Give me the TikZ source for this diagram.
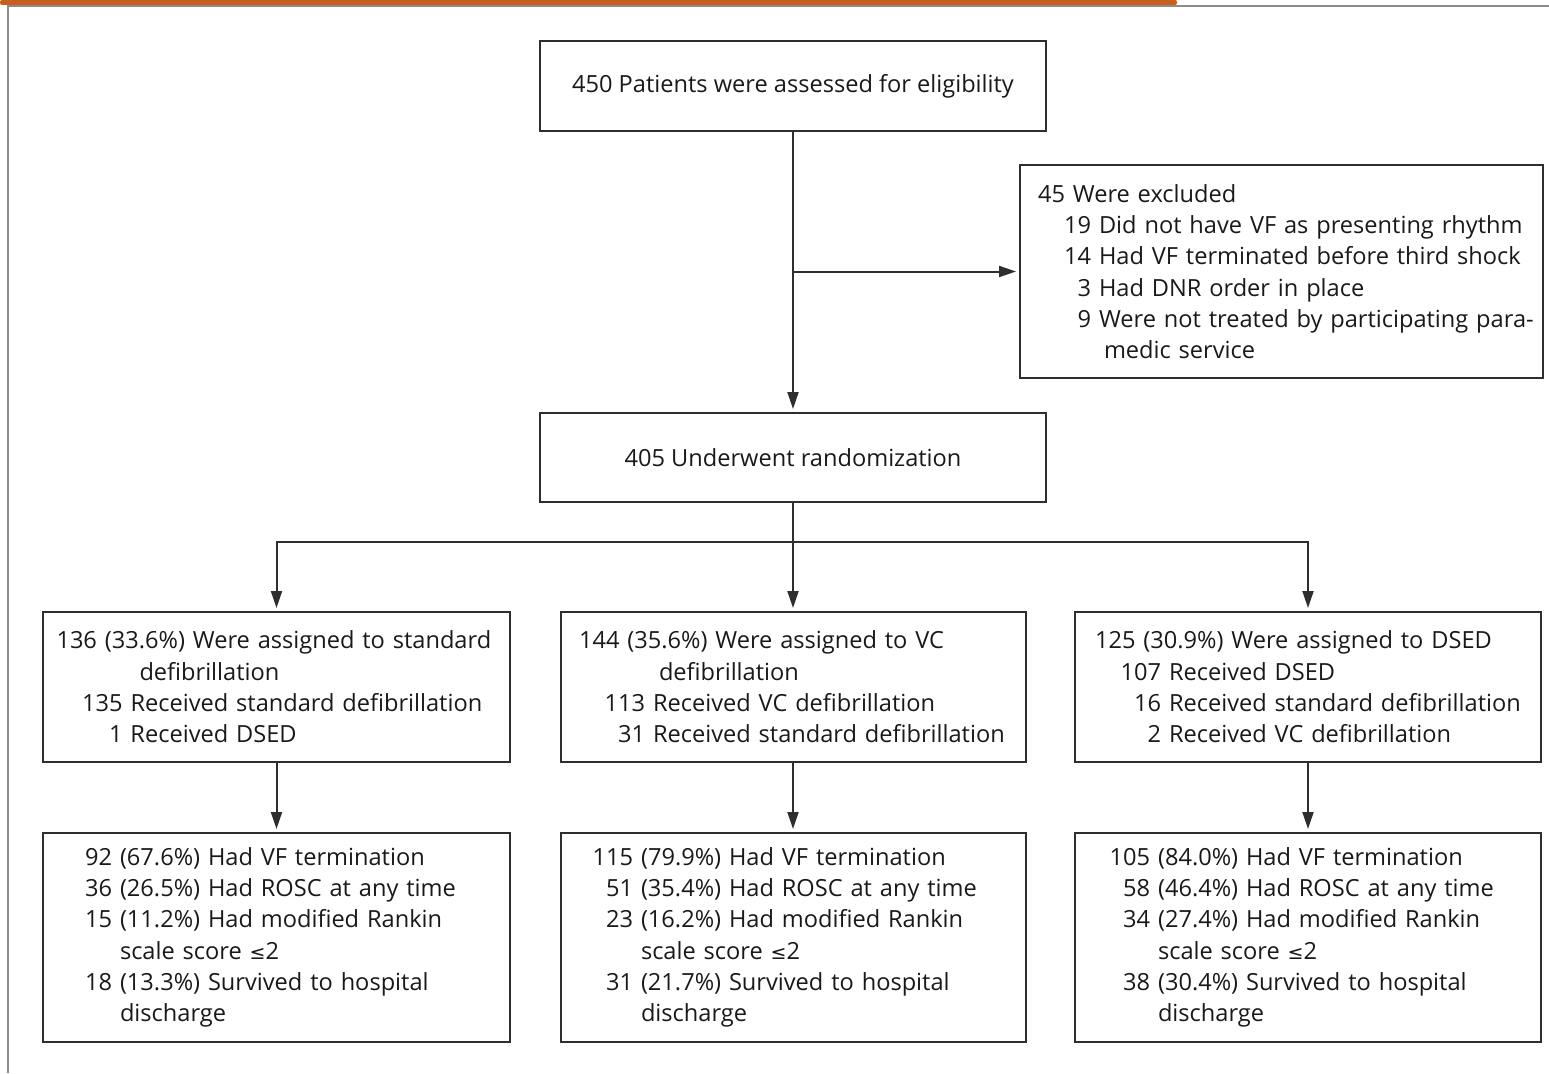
\documentclass[tikz,border=0pt]{standalone}
\usepackage{fontspec}
\setmainfont{Open Sans}
\newfontfamily\symfont{DejaVu Sans}
\usetikzlibrary{positioning,arrows.meta}
\definecolor{nejmorange}{HTML}{C8601C}
\definecolor{framegray}{HTML}{8C8C8C}
\definecolor{inkgray}{HTML}{2E2E2E}
\newcommand{\boxfont}{\fontsize{23.6}{31.3}\selectfont}
\newcommand{\itm}[3]{\hspace*{#1}\llap{#2\ }\rlap{#3}}
\newcommand{\ind}[2]{\hspace*{#1}\rlap{#2}}
\newcommand{\leqs}{{\symfont\fontsize{19}{19}\selectfont ≤}}
\tikzset{
  flowarrow/.style={-{Triangle[length=17pt,width=11pt]}, line width=2pt, draw=inkgray, shorten >=3pt},
  flowline/.style={line width=2pt, draw=inkgray},
  flowbox/.style={draw=inkgray, line width=2pt, inner xsep=0pt, align=left, text=black!90},
  headbox/.style={draw=inkgray, line width=2pt, align=center, text=black!90, minimum width=506pt, minimum height=90pt},
  armbox/.style={flowbox, minimum height=150pt},
  outbox/.style={flowbox, minimum height=209pt}
}

\begin{document}
\begin{tikzpicture}[x=1pt, y=-1pt, every node/.style={font=\boxfont}]
  \useasboundingbox (0,0) rectangle (1549,1073);
  % page frame
  \draw[line width=2pt, framegray] (8,1073) -- (8,6) -- (1549,6);
  \fill[nejmorange, rounded corners=2pt] (0,0) rectangle (1177,5);

  \node[headbox] (n450) at (793,86) {450 Patients were assessed for eligibility};
  \node[flowbox, text width=523pt, minimum height=213pt] (nexcl) at (1281.5,271.5) {%
    \ind{18pt}{45 Were excluded}\\
    \itm{79pt}{19}{Did not have VF as presenting rhythm}\\
    \itm{79pt}{14}{Had VF terminated before third shock}\\
    \itm{79pt}{3}{Had DNR order in place}\\
    \itm{79pt}{9}{Were not treated by participating para-}\\
    \ind{84pt}{medic service}};
  \node[headbox, minimum height=89pt] (nrand) at (793,457.5) {405 Underwent randomization};

  % randomized arms
  \node[armbox, text width=467pt] (nstd) at (276.5,687) {%
    \ind{13.5pt}{136 (33.6\%) Were assigned to standard}\\
    \ind{96.5pt}{defibrillation}\\
    \itm{87.5pt}{135}{Received standard defibrillation}\\
    \itm{87.5pt}{1}{Received DSED}};
  \node[armbox, text width=465pt] (nvc) at (793,687) {%
    \ind{18.5pt}{144 (35.6\%) Were assigned to VC}\\
    \ind{98.5pt}{defibrillation}\\
    \itm{92.5pt}{113}{Received VC defibrillation}\\
    \itm{92.5pt}{31}{Received standard defibrillation}};
  \node[armbox, text width=466pt] (nds) at (1308,687) {%
    \ind{20pt}{125 (30.9\%) Were assigned to DSED}\\
    \itm{94pt}{107}{Received DSED}\\
    \itm{94pt}{16}{Received standard defibrillation}\\
    \itm{94pt}{2}{Received VC defibrillation}};

  % outcomes
  \node[outbox, text width=467pt] (ostd) at (276.5,937.5) {%
    \itm{77pt}{92}{(67.6\%) Had VF termination}\\
    \itm{77pt}{36}{(26.5\%) Had ROSC at any time}\\
    \itm{77pt}{15}{(11.2\%) Had modified Rankin}\\
    \ind{77pt}{scale score \leqs2}\\
    \itm{77pt}{18}{(13.3\%) Survived to hospital}\\
    \ind{77pt}{discharge}};
  \node[outbox, text width=465pt] (ovc) at (793,937.5) {%
    \itm{80.5pt}{115}{(79.9\%) Had VF termination}\\
    \itm{80.5pt}{51}{(35.4\%) Had ROSC at any time}\\
    \itm{80.5pt}{23}{(16.2\%) Had modified Rankin}\\
    \ind{80.5pt}{scale score \leqs2}\\
    \itm{80.5pt}{31}{(21.7\%) Survived to hospital}\\
    \ind{80.5pt}{discharge}};
  \node[outbox, text width=466pt] (ods) at (1308,937.5) {%
    \itm{83pt}{105}{(84.0\%) Had VF termination}\\
    \itm{83pt}{58}{(46.4\%) Had ROSC at any time}\\
    \itm{83pt}{34}{(27.4\%) Had modified Rankin}\\
    \ind{83pt}{scale score \leqs2}\\
    \itm{83pt}{38}{(30.4\%) Survived to hospital}\\
    \ind{83pt}{discharge}};

  % connectors
  \draw[flowarrow] (n450) -- (nrand);
  \draw[flowarrow] (n450 |- nexcl.west) -- (nexcl.west);
  \coordinate[below=39pt of nrand] (split);
  \draw[flowline] (nrand) -- (split);
  \draw[flowarrow] (split) -| (nstd);
  \draw[flowarrow] (split) -- (nvc);
  \draw[flowarrow] (split) -| (nds);
  \draw[flowarrow] (nstd) -- (ostd);
  \draw[flowarrow] (nvc) -- (ovc);
  \draw[flowarrow] (nds) -- (ods);
\end{tikzpicture}
\end{document}
